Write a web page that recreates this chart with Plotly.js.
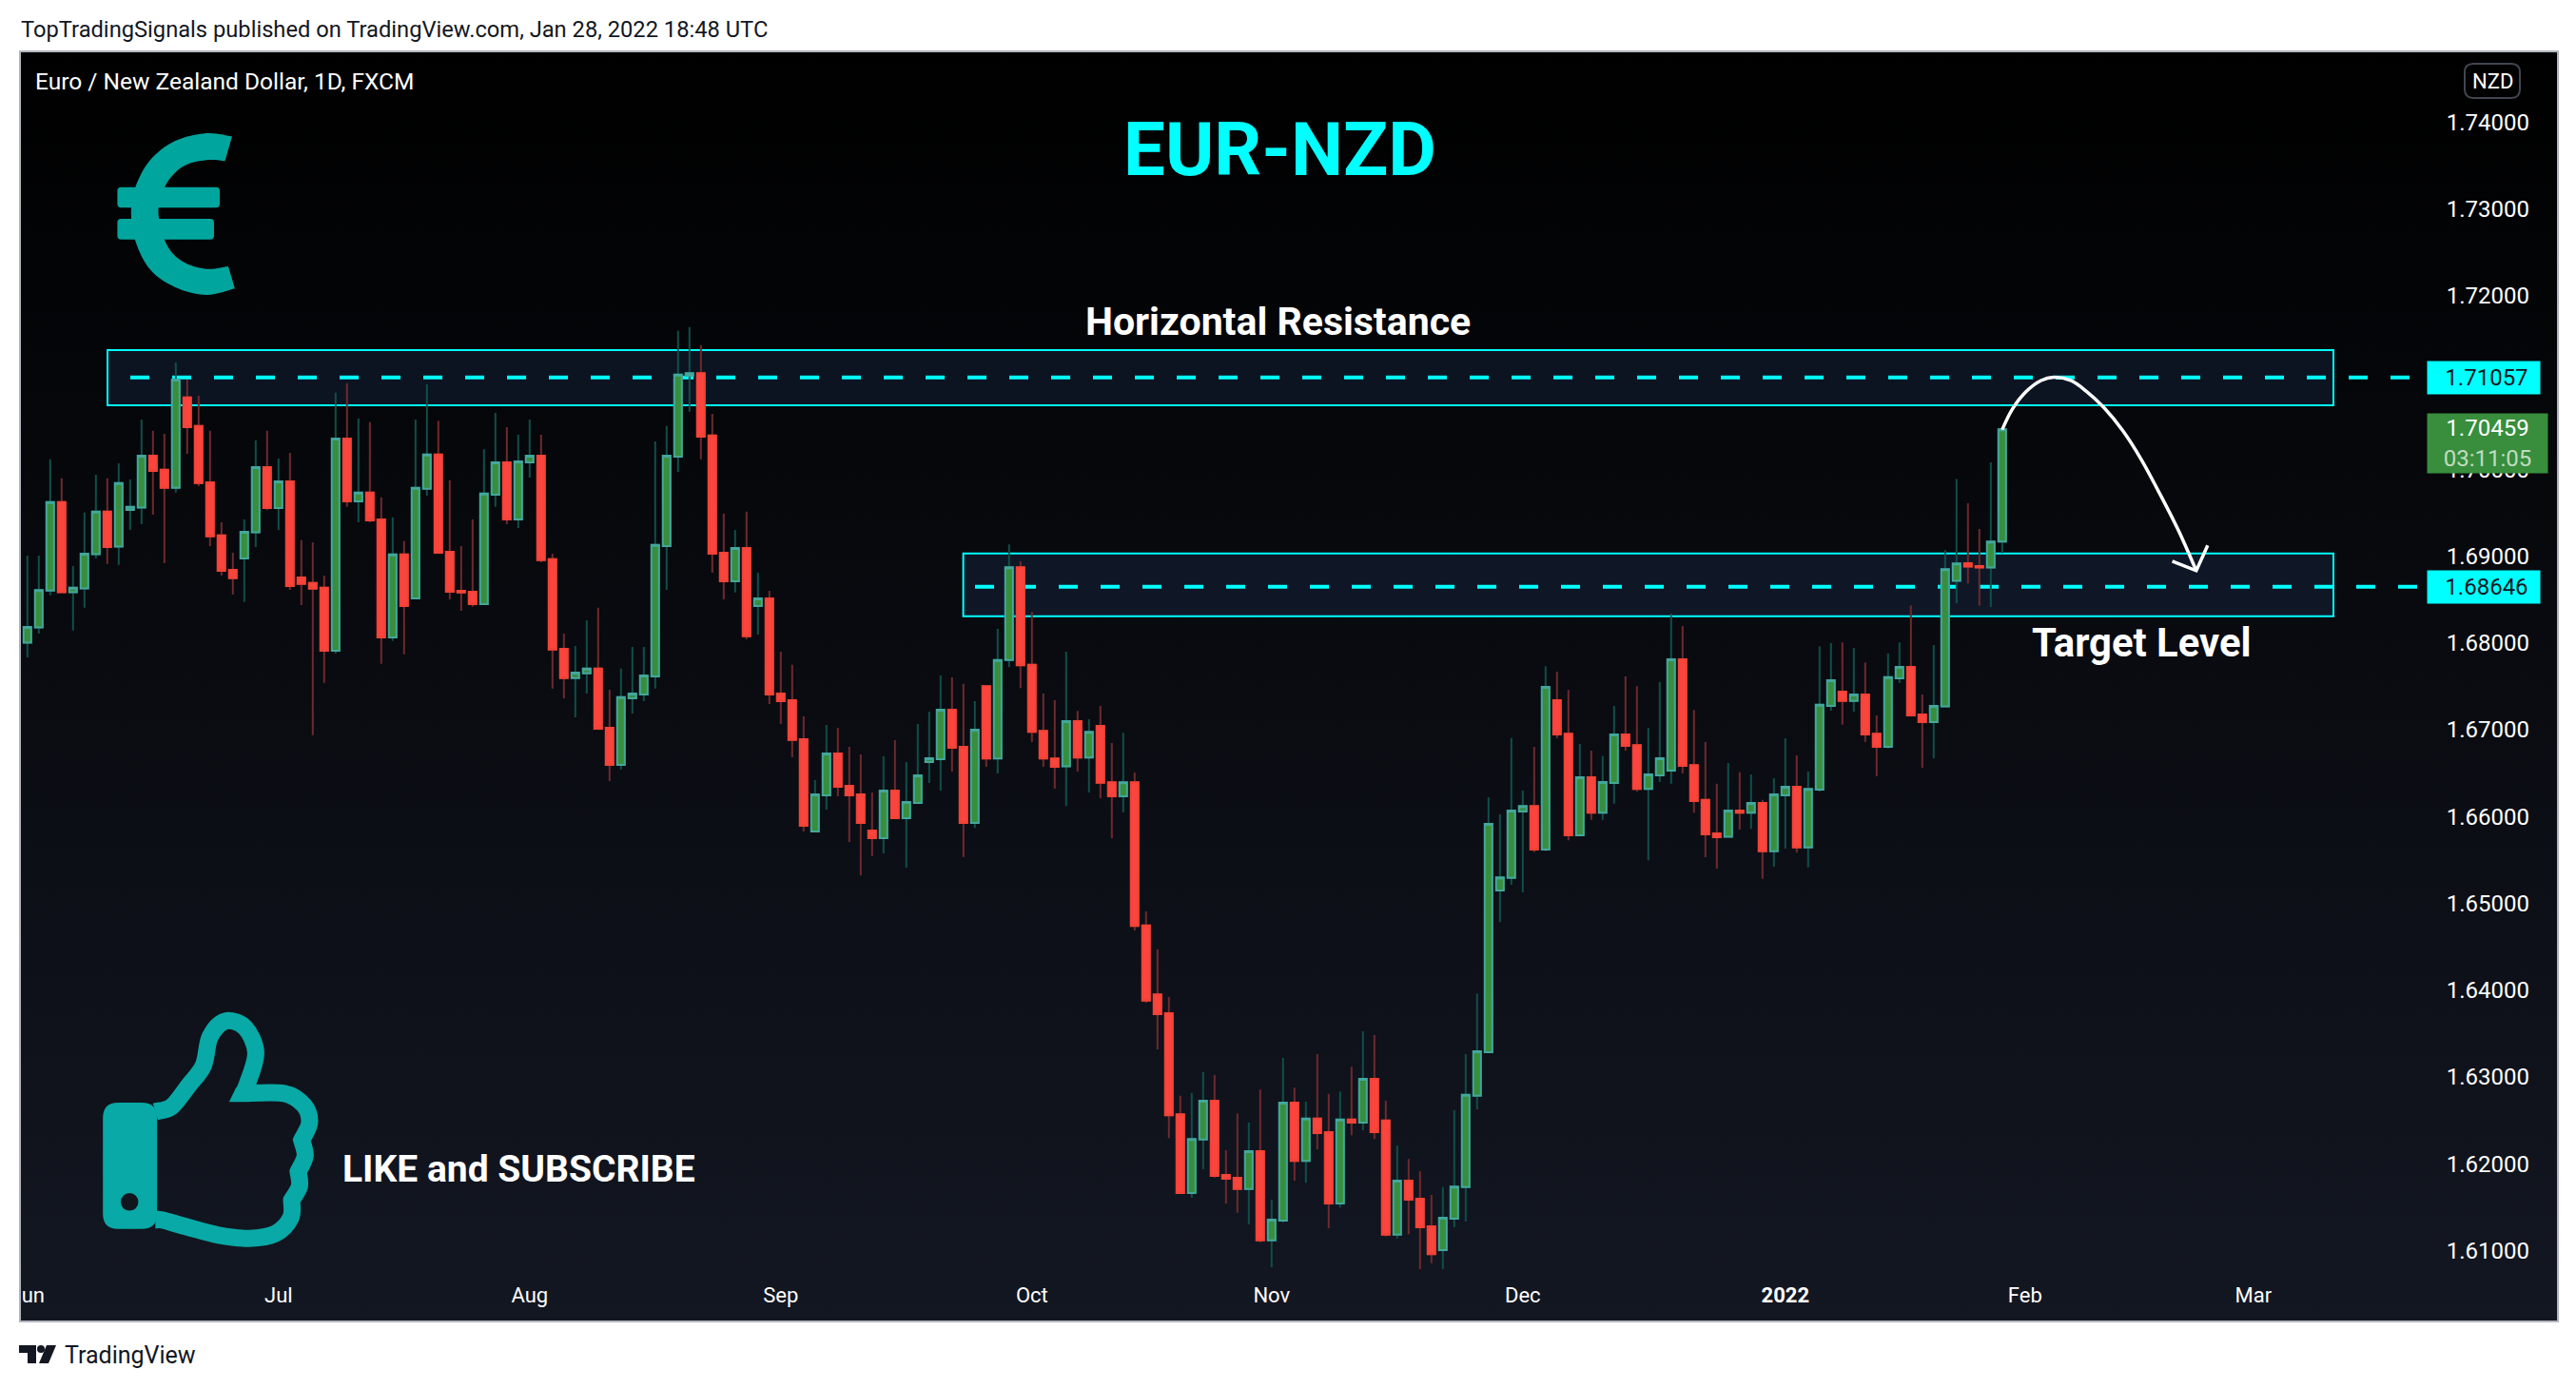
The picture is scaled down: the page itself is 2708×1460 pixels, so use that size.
<!DOCTYPE html>
<html><head><meta charset="utf-8">
<script src="https://cdn.plot.ly/plotly-3.0.1.min.js"></script>
<style>
html,body{margin:0;padding:0;background:#fff;width:2708px;height:1460px;overflow:hidden}
#bg{position:absolute;left:21px;top:54px;width:2668px;height:1335px;background:linear-gradient(#000000,#131722)}
#chart{position:absolute;left:0;top:0;width:2708px;height:1460px}
</style></head><body>
<div id="bg"></div><div id="chart"></div>
<script>
const open = [
1.67993,1.68001,1.68177,1.68603,1.69621,1.68584,1.68627,1.69022,1.69511,1.69108,
1.69531,1.69558,1.70157,1.69993,1.69785,1.70826,1.70498,1.69848,1.69237,1.68842,
1.68971,1.69273,1.70024,1.69554,1.69860,1.68752,1.68689,1.68635,1.67910,1.70353,
1.69629,1.69730,1.69421,1.68063,1.69018,1.68513,1.69774,1.70169,1.69049,1.68599,
1.68588,1.68447,1.69707,1.70079,1.69421,1.70079,1.70157,1.68963,1.67930,1.67593,
1.67648,1.67703,1.67022,1.66595,1.67362,1.67406,1.67613,1.69116,1.70145,1.71077,
1.71108,1.70388,1.69038,1.68709,1.69093,1.68423,1.68513,1.67417,1.67339,1.66891,
1.65827,1.66244,1.66726,1.66354,1.66255,1.65838,1.65751,1.66299,1.65981,1.66156,
1.66627,1.66660,1.67229,1.66803,1.65924,1.67501,1.66668,1.67803,1.68871,1.67747,
1.66986,1.66668,1.66578,1.67098,1.66679,1.67042,1.66394,1.66232,1.66394,1.64744,
1.63950,1.63732,1.62569,1.61663,1.62278,1.62725,1.61870,1.61836,1.61708,1.62144,
1.61115,1.61344,1.62703,1.62032,1.62518,1.62362,1.61540,1.62507,1.62474,1.62977,
1.62496,1.61182,1.61803,1.61596,1.61277,1.61003,1.61367,1.61730,1.62781,1.63285,
1.65147,1.65292,1.66058,1.66120,1.65618,1.67340,1.66954,1.65784,1.66450,1.66044,
1.66386,1.66944,1.66822,1.66318,1.66474,1.66528,1.67810,1.66592,1.66190,1.65804,
1.65765,1.66068,1.66044,1.66156,1.65598,1.66244,1.66342,1.65642,1.66308,1.67272,
1.67438,1.67330,1.67404,1.66954,1.66802,1.67590,1.67724,1.67174,1.67086,1.67267,
1.68714,1.68918,1.68885,1.68867,1.69167];
const high = [
1.68204,1.69006,1.69006,1.70114,1.69895,1.68885,1.69500,1.69938,1.69895,1.70067,
1.69883,1.70572,1.70443,1.70408,1.71230,1.71034,1.70846,1.70443,1.69390,1.69038,
1.69421,1.70333,1.70443,1.70122,1.70188,1.69182,1.69159,1.68775,1.70881,1.70991,
1.70584,1.70541,1.69676,1.69445,1.69171,1.70572,1.70979,1.70560,1.69871,1.69116,
1.69421,1.70231,1.70650,1.70486,1.70396,1.70572,1.70396,1.69026,1.68106,1.67965,
1.68259,1.68404,1.67460,1.67703,1.67954,1.67954,1.70321,1.70498,1.71594,1.71637,
1.71429,1.70639,1.69488,1.69300,1.69511,1.68807,1.68599,1.67899,1.67746,1.67154,
1.66419,1.67055,1.67022,1.66803,1.66715,1.66277,1.66693,1.66880,1.66627,1.67066,
1.67208,1.67625,1.67601,1.67527,1.67328,1.67501,1.68161,1.69134,1.68938,1.68357,
1.67417,1.67339,1.67898,1.67216,1.67121,1.67272,1.66847,1.66964,1.66506,1.64906,
1.64470,1.63922,1.62781,1.62815,1.63055,1.63022,1.62155,1.62580,1.62474,1.62854,
1.61585,1.63217,1.62876,1.62714,1.63262,1.62804,1.62832,1.63117,1.63525,1.63480,
1.62725,1.62211,1.62054,1.61915,1.61641,1.61730,1.62614,1.63262,1.63961,1.66220,
1.66025,1.66903,1.66299,1.66802,1.67732,1.67668,1.67458,1.66836,1.66758,1.66694,
1.67272,1.67614,1.67502,1.67022,1.67546,1.68337,1.68194,1.67228,1.66856,1.66376,
1.66616,1.66508,1.66484,1.66190,1.66440,1.66900,1.66704,1.66518,1.67962,1.67996,
1.68006,1.67942,1.67776,1.67164,1.67878,1.68006,1.68429,1.67404,1.67976,1.69068,
1.69886,1.69609,1.69313,1.70080,1.70459];
const low = [
1.67813,1.67832,1.68106,1.68548,1.68584,1.68141,1.68404,1.68971,1.68909,1.68897,
1.69300,1.69367,1.69476,1.68916,1.69730,1.70177,1.69805,1.69116,1.68775,1.68556,
1.68470,1.69104,1.69531,1.69300,1.68611,1.68435,1.66936,1.67539,1.67875,1.69566,
1.69390,1.69390,1.67758,1.68020,1.67867,1.68513,1.69695,1.69038,1.68502,1.68368,
1.68415,1.68447,1.69566,1.69367,1.69323,1.69903,1.68928,1.67472,1.67362,1.67143,
1.67417,1.67010,1.66407,1.66541,1.67186,1.67327,1.67472,1.68611,1.69969,1.70662,
1.70114,1.68807,1.68502,1.68580,1.68040,1.68094,1.67296,1.67065,1.66681,1.65827,
1.65817,1.66080,1.66233,1.65707,1.65323,1.65543,1.65575,1.65970,1.65411,1.66156,
1.66386,1.66299,1.66518,1.65532,1.65868,1.66573,1.66494,1.67719,1.67479,1.66858,
1.66573,1.66321,1.66120,1.66517,1.66276,1.66209,1.65751,1.66047,1.64688,1.63855,
1.63318,1.62295,1.61652,1.61607,1.61937,1.61836,1.61540,1.61434,1.61299,1.61093,
1.60807,1.61322,1.61803,1.61780,1.62166,1.61255,1.61495,1.62328,1.62384,1.62284,
1.61160,1.61137,1.61188,1.60785,1.60852,1.60785,1.61266,1.61333,1.62625,1.63285,
1.64783,1.65214,1.65124,1.65588,1.65603,1.66900,1.65725,1.65784,1.65960,1.65960,
1.66146,1.66758,1.66288,1.65496,1.66396,1.66376,1.66494,1.66044,1.65530,1.65398,
1.65765,1.65848,1.65858,1.65280,1.65422,1.65628,1.65584,1.65412,1.66288,1.67218,
1.67056,1.67208,1.66856,1.66464,1.66782,1.67536,1.67155,1.66562,1.66670,1.67267,
1.68458,1.68685,1.68429,1.68414,1.69032];
const close = [
1.68008,1.68184,1.68607,1.69621,1.68584,1.68635,1.69026,1.69511,1.69104,1.69840,
1.69566,1.70157,1.69981,1.69785,1.71034,1.70486,1.69840,1.69226,1.68830,1.68744,
1.69280,1.70024,1.69554,1.69860,1.68654,1.68678,1.68623,1.67910,1.70353,1.69629,
1.69730,1.69410,1.68063,1.69018,1.68423,1.69785,1.70169,1.69038,1.68588,1.68580,
1.68447,1.69719,1.70079,1.69421,1.70091,1.70157,1.68952,1.67922,1.67593,1.67656,
1.67703,1.67010,1.66595,1.67374,1.67417,1.67625,1.69128,1.70157,1.71089,1.71108,
1.70376,1.69026,1.68709,1.69093,1.68075,1.68513,1.67406,1.67327,1.66881,1.65893,
1.66255,1.66726,1.66343,1.66244,1.65926,1.65751,1.66299,1.65981,1.66167,1.66474,
1.66671,1.67229,1.66792,1.65926,1.66998,1.66668,1.67803,1.68871,1.67741,1.66975,
1.66668,1.66573,1.67098,1.66679,1.66975,1.66388,1.66232,1.66394,1.64738,1.63877,
1.63721,1.62558,1.61663,1.62284,1.62725,1.61859,1.61825,1.61708,1.62144,1.61115,
1.61355,1.62703,1.62032,1.62518,1.62351,1.61540,1.62507,1.62474,1.62977,1.62362,
1.61182,1.61803,1.61585,1.61266,1.60958,1.61378,1.61736,1.62792,1.63296,1.65913,
1.65298,1.66069,1.66120,1.65618,1.67492,1.66944,1.65784,1.66450,1.66044,1.66396,
1.66944,1.66812,1.66318,1.66484,1.66670,1.67810,1.66582,1.66176,1.65794,1.65760,
1.66068,1.66044,1.66156,1.65598,1.66254,1.66342,1.65642,1.66318,1.67286,1.67570,
1.67330,1.67404,1.66944,1.66802,1.67604,1.67722,1.67165,1.67086,1.67272,1.68849,
1.68915,1.68878,1.68867,1.69167,1.70459];
const candleIndex = open.map((_, i) => i);
const monthTickIndex = [1,23,45,67,89,110,132,155,176,196];
const monthTickText = ['Jun','Jul','Aug','Sep','Oct','Nov','Dec','<b>2022</b>','Feb','Mar'];
const priceTicks = [1.61,1.62,1.63,1.64,1.65,1.66,1.67,1.68,1.69,1.70,1.71,1.72,1.73,1.74];
const priceTickText = priceTicks.map(v => v.toFixed(5));
const arrowX = [174.0,174.9,176.1,177.4,178.5,180.0,181.4,182.9,184.6,186.2,187.7,189.4,191.0];
const arrowY = [1.70456,1.70694,1.70895,1.71022,1.71059,1.71022,1.70895,1.70712,1.70438,1.70109,1.69744,1.69306,1.68831];
const arrowHeadX = [188.9,191.0,192.0];
const arrowHeadY = [1.68940,1.68831,1.69123];
const resistanceLevel = 1.71057, targetLevel = 1.68646, lastPrice = 1.70459;
const resistanceZone = [1.70737,1.71373], targetZone = [1.68307,1.69030];

const FONT = 'Roboto, "Open Sans", sans-serif';
const X = px => (px - 21) / 2668, Y = py => 1 - (py - 54) / 1335;
const P = (px, py) => X(px).toFixed(5) + ',' + Y(py).toFixed(5);
function smooth(pts, first) {
  let s = (first ? 'M' : 'L') + P(pts[0][0], pts[0][1]);
  for (let i = 0; i < pts.length - 1; i++) {
    const p0 = pts[Math.max(i - 1, 0)], p1 = pts[i], p2 = pts[i + 1], p3 = pts[Math.min(i + 2, pts.length - 1)];
    s += ' C' + P(p1[0] + (p2[0] - p0[0]) / 6, p1[1] + (p2[1] - p0[1]) / 6) + ' ' +
      P(p2[0] - (p3[0] - p1[0]) / 6, p2[1] - (p3[1] - p1[1]) / 6) + ' ' + P(p2[0], p2[1]);
  }
  return s;
}
const rrect = (x0, y0, x1, y1, r) => 'M' + P(x0 + r, y0) + ' L' + P(x1 - r, y0) + ' Q' + P(x1, y0) + ' ' + P(x1, y0 + r) +
  ' L' + P(x1, y1 - r) + ' Q' + P(x1, y1) + ' ' + P(x1 - r, y1) + ' L' + P(x0 + r, y1) + ' Q' + P(x0, y1) + ' ' + P(x0, y1 - r) +
  ' L' + P(x0, y0 + r) + ' Q' + P(x0, y0) + ' ' + P(x0 + r, y0) + ' Z';

const eu = (a) => a.map(p => [p[0] / 1.742, p[1] / 3]);
const euroPath = smooth(eu([[425,430],[378,420],[320,445],[275,505],[248,590],[240,670],[248,760],[275,850],[320,905],[378,930],[430,910]]), true) +
  ' ' + smooth(eu([[418,840],[378,848],[335,825],[305,770],[290,670],[303,585],[335,525],[378,505],[412,508]]), false) + ' Z';
const th = (a) => a.map(p => [60 + p[0] / 2.178, 1030 + p[1] / 3]);
const thumbPath = smooth(th([[225,415],[262,400],[300,335],[335,270],[350,180],[385,130],[430,150],[455,230],[435,330],[425,358]]), true) +
  ' ' + smooth(th([[425,358],[520,358],[565,395],[578,450],[560,505]]), false) +
  ' ' + smooth(th([[560,505],[568,555],[552,605]]), false) +
  ' ' + smooth(th([[552,605],[555,650],[537,695]]), false) +
  ' ' + smooth(th([[537,695],[535,750],[500,800],[440,815],[370,805],[300,780],[240,757],[225,757]]), false);

const EURO = '#00a69e', THUMB = '#08a9a6', CY = '#00ffff', ZONE = 'rgba(70,140,240,0.11)';
const idx = px => (px - 16.8) / 12;
const shapes = [
  {type:'rect',layer:'below',xref:'x',yref:'y',x0:idx(113),x1:idx(2453),y0:resistanceZone[0],y1:resistanceZone[1],fillcolor:ZONE,line:{color:CY,width:2}},
  {type:'rect',layer:'below',xref:'x',yref:'y',x0:idx(1012.6),x1:idx(2453),y0:targetZone[0],y1:targetZone[1],fillcolor:ZONE,line:{color:CY,width:2}},
  {type:'line',layer:'below',xref:'x',yref:'y',x0:idx(137),x1:idx(2550),y0:resistanceLevel,y1:resistanceLevel,line:{color:CY,width:4,dash:'20px,24px'}},
  {type:'line',layer:'below',xref:'x',yref:'y',x0:idx(1025),x1:idx(2550),y0:targetLevel,y1:targetLevel,line:{color:CY,width:4,dash:'20px,24px'}},
  {type:'path',xref:'paper',yref:'paper',path:euroPath,fillcolor:EURO,line:{width:0}},
  {type:'path',xref:'paper',yref:'paper',path:rrect(123.4,196.7,231,218.3,4),fillcolor:EURO,line:{width:0}},
  {type:'path',xref:'paper',yref:'paper',path:rrect(123.4,230,225,251.7,4),fillcolor:EURO,line:{width:0}},
  {type:'path',xref:'paper',yref:'paper',path:thumbPath,fillcolor:'rgba(0,0,0,0)',line:{color:THUMB,width:18}},
  {type:'path',xref:'paper',yref:'paper',path:rrect(108.2,1159,165.1,1291.7,16),fillcolor:THUMB,line:{width:0}},
  {type:'circle',xref:'paper',yref:'paper',x0:X(127),x1:X(145.4),y0:Y(1254),y1:Y(1272.6),fillcolor:'#11151e',line:{width:0}},
  {type:'path',xref:'paper',yref:'paper',path:rrect(2591,67,2649,103,9),fillcolor:'rgba(0,0,0,0)',line:{color:'#434651',width:2}},
  {type:'rect',xref:'paper',yref:'paper',x0:0,x1:1,y0:0,y1:1,line:{color:'#b2b5be',width:2},fillcolor:'rgba(0,0,0,0)'},
  {type:'path',xref:'paper',yref:'paper',path:'M'+P(20,1414)+' L'+P(38,1414)+' L'+P(38,1433)+' L'+P(29,1433)+' L'+P(29,1422)+' L'+P(20,1422)+' Z',fillcolor:'#131722',line:{width:0}},
  {type:'circle',xref:'paper',yref:'paper',x0:X(39),x1:X(47),y0:Y(1414),y1:Y(1422),fillcolor:'#131722',line:{width:0}},
  {type:'path',xref:'paper',yref:'paper',path:'M'+P(49,1414)+' L'+P(59,1414)+' L'+P(51,1433)+' L'+P(41,1433)+' Z',fillcolor:'#131722',line:{width:0}}
];
const txt = (text, px, py, size, color, extra) => Object.assign({
  xref:'paper',yref:'paper',x:X(px),y:Y(py),text:text,showarrow:false,xanchor:'center',yanchor:'middle',
  font:{family:FONT,size:size,color:color}}, extra||{});
const tag = (text, level, color, bg) => ({xref:'paper',yref:'y',x:X(2611),y:level,text:'\u00a0'+text,showarrow:false,xanchor:'center',yanchor:'middle',
  width:118,height:34,bgcolor:bg,borderpad:0,font:{family:FONT,size:24,color:color}});
const annotations = [
  txt('TopTradingSignals published on TradingView.com, Jan 28, 2022 18:48 UTC',20,31,23.7,'#131722',{xanchor:'left'}),
  txt('Euro / New Zealand Dollar, 1D, FXCM',35,85,24.5,'#ffffff',{xanchor:'left'}),
  txt('NZD',2620,85,22,'#ffffff'),
  txt('<b>EUR-NZD</b>',1345,157,78,CY),
  txt('<b>Horizontal Resistance</b>',1343,338,41,'#ffffff'),
  txt('<b>Target Level</b>',2251,676,41.8,'#ffffff'),
  txt('<b>LIKE and SUBSCRIBE</b>',545,1229,39,'#ffffff'),
  txt('TradingView',137,1424,25,'#131722'),
  tag('1.71057',resistanceLevel,'#131722',CY),
  tag('1.68646',targetLevel,'#131722',CY),
  {xref:'paper',yref:'paper',x:X(2615),y:Y(466),text:'1.70459<br><span style="color:rgba(255,255,255,0.7)">03:11:05</span>',showarrow:false,
   xanchor:'center',yanchor:'middle',width:126,height:62,bgcolor:'#388e3c',borderpad:0,font:{family:FONT,size:24,color:'#ffffff'}}
];
const RED_W = '#6e2a2e', GRN_W = '#0f4f49';
const traces = [
  {type:'candlestick',x:candleIndex,open,high,low,close,whiskerwidth:0,hoverinfo:'skip',
   increasing:{line:{color:GRN_W,width:2},fillcolor:GRN_W},decreasing:{line:{color:RED_W,width:2},fillcolor:RED_W}},
  {type:'candlestick',x:candleIndex,open,close,
   high:open.map((o,i)=>Math.max(o,close[i])),low:open.map((o,i)=>Math.min(o,close[i])),whiskerwidth:0,hoverinfo:'skip',
   increasing:{line:{color:'#43a79c',width:2},fillcolor:'#388e3c'},decreasing:{line:{color:'#f44336',width:2},fillcolor:'#fa453e'}},
  {type:'scatter',mode:'lines',x:arrowX,y:arrowY,line:{color:'#ffffff',width:3.5,shape:'spline',smoothing:1},hoverinfo:'skip'},
  {type:'scatter',mode:'lines',x:arrowHeadX,y:arrowHeadY,line:{color:'#ffffff',width:3.5},hoverinfo:'skip'}
];
const layout = {
  width:2708,height:1460,autosize:false,showlegend:false,
  margin:{l:21,r:19,t:54,b:71,pad:0},
  paper_bgcolor:'rgba(0,0,0,0)',plot_bgcolor:'rgba(0,0,0,0)',
  boxmode:'overlay',boxgap:0.333,boxgroupgap:0,hovermode:false,
  xaxis:{type:'linear',range:[idx(21),idx(2689)],tickmode:'array',tickvals:monthTickIndex,ticktext:monthTickText,
    ticklabelposition:'inside',ticklabeloverflow:'allow',ticklabelstandoff:13,ticks:'',showgrid:false,zeroline:false,showline:false,
    rangeslider:{visible:false},fixedrange:true,tickfont:{family:FONT,size:22,color:'#ffffff'}},
  yaxis:{side:'right',type:'linear',range:[1.60182,1.74814],tickmode:'array',tickvals:priceTicks,ticktext:priceTickText,
    ticklabelposition:'inside',ticklabeloverflow:'allow',ticklabelstandoff:27,ticks:'',showgrid:false,zeroline:false,showline:false,
    fixedrange:true,tickfont:{family:FONT,size:24,color:'#ffffff'}},
  shapes,annotations
};
Plotly.newPlot('chart',traces,layout,{displayModeBar:false,staticPlot:true});
</script></body></html>
